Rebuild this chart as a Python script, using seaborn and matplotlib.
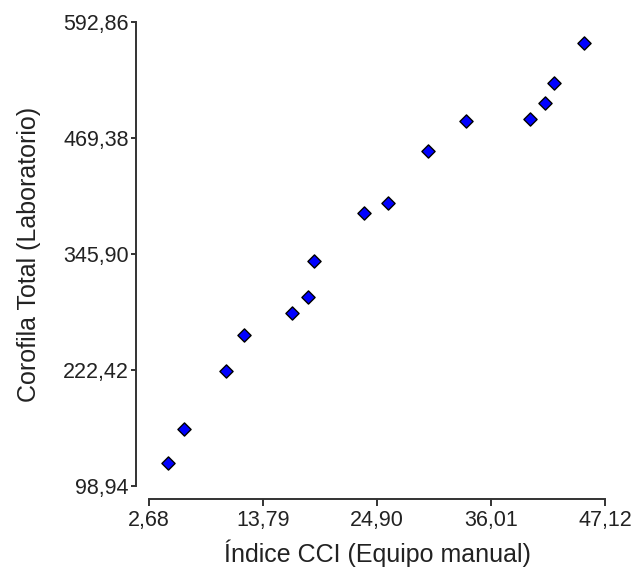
import pandas as pd
import matplotlib.pyplot as plt
import seaborn as sns

# Data
cci = [4.50, 6.06, 10.15, 11.91, 16.61, 18.14, 18.73, 23.63, 25.94,
       29.84, 33.57, 39.77, 41.29, 42.11, 45.07]
clorofila = [123.1, 159.3, 221.0, 259.4, 282.8, 299.8, 338.4, 389.5, 400.2,
             455.5, 487.5, 489.6, 506.6, 528.2, 570.8]

x_ticks = [2.68, 13.79, 24.90, 36.01, 47.12]
x_tick_labels = ['2,68', '13,79', '24,90', '36,01', '47,12']
y_ticks = [98.94, 222.42, 345.90, 469.38, 592.86]
y_tick_labels = ['98,94', '222,42', '345,90', '469,38', '592,86']

df = pd.DataFrame({'CCI': cci, 'Clorofila': clorofila})

sns.set_style('ticks')
plt.rcParams['font.family'] = ['Liberation Sans', 'DejaVu Sans']

text_color = '#222222'
spine_color = '#333333'

fig = plt.figure(figsize=(6.36, 5.71), dpi=100)
ax = fig.add_axes([149 / 636, 85 / 571, 456 / 636, 464 / 571])

sns.scatterplot(data=df, x='CCI', y='Clorofila', ax=ax,
                marker='D', s=45, color='#0000FF',
                edgecolor='black', linewidth=1.0, zorder=3)

ax.set_xlim(x_ticks[0], x_ticks[-1])
ax.set_ylim(y_ticks[0], y_ticks[-1])
ax.set_xticks(x_ticks)
ax.set_xticklabels(x_tick_labels)
ax.set_yticks(y_ticks)
ax.set_yticklabels(y_tick_labels)

ax.set_xlabel('Índice CCI (Equipo manual)', fontsize=18, color=text_color, labelpad=6)
ax.set_ylabel('Corofila Total (Laboratorio)', fontsize=18, color=text_color, labelpad=16)

for side in ['top', 'right']:
    ax.spines[side].set_visible(False)
for side in ['left', 'bottom']:
    ax.spines[side].set_position(('outward', 9.4))
    ax.spines[side].set_color(spine_color)
    ax.spines[side].set_linewidth(1.4)

ax.tick_params(axis='y', length=3.5, width=1.4, color=spine_color,
               labelsize=15.5, labelcolor=text_color, pad=1.5)
ax.tick_params(axis='x', length=5, width=1.4, color=spine_color,
               labelsize=15.5, labelcolor=text_color, pad=3)
ax.grid(False)

plt.savefig('out.png', dpi=100, facecolor='white')
plt.close()
